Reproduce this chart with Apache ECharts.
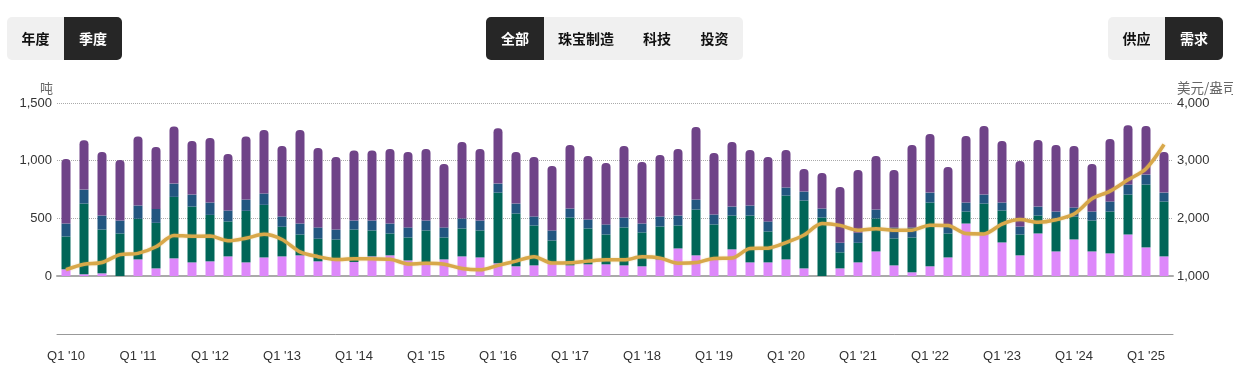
<!DOCTYPE html>
<html>
<head>
<meta charset="utf-8">
<script src="https://cdn.jsdelivr.net/npm/echarts@6/dist/echarts.min.js"></script>
<style>
  html, body { margin: 0; padding: 0; background: #fff; }
  #wrap { position: relative; width: 1233px; height: 380px; overflow: hidden; }
  #chart { position: absolute; left: 0; top: 0; width: 1233px; height: 380px; }
  .grp { position: absolute; top: 17px; height: 43px; display: flex; background: #f0f0f0; border-radius: 5px; overflow: hidden; }
  .btn { height: 43px; line-height: 43px; text-align: center; font-family: "Noto Sans CJK SC", "Noto Sans", sans-serif; font-weight: bold; font-size: 14px; color: #111; }
  .btn.on { background: #262626; color: #fff; }
</style>
</head>
<body>
<div id="wrap">
  <div id="chart"></div>
  <div class="grp" style="left:7px;">
    <div class="btn" style="width:57px;">年度</div>
    <div class="btn on" style="width:58px;">季度</div>
  </div>
  <div class="grp" style="left:486px;">
    <div class="btn on" style="width:58px;">全部</div>
    <div class="btn" style="width:84px;">珠宝制造</div>
    <div class="btn" style="width:58px;">科技</div>
    <div class="btn" style="width:57px;">投资</div>
  </div>
  <div class="grp" style="left:1108px;">
    <div class="btn" style="width:57px;">供应</div>
    <div class="btn on" style="width:58px;">需求</div>
  </div>
</div>
<script>
// Quarter labels
const quarters = [
  "Q1 '10","Q2 '10","Q3 '10","Q4 '10","Q1 '11","Q2 '11","Q3 '11","Q4 '11",
  "Q1 '12","Q2 '12","Q3 '12","Q4 '12","Q1 '13","Q2 '13","Q3 '13","Q4 '13",
  "Q1 '14","Q2 '14","Q3 '14","Q4 '14","Q1 '15","Q2 '15","Q3 '15","Q4 '15",
  "Q1 '16","Q2 '16","Q3 '16","Q4 '16","Q1 '17","Q2 '17","Q3 '17","Q4 '17",
  "Q1 '18","Q2 '18","Q3 '18","Q4 '18","Q1 '19","Q2 '19","Q3 '19","Q4 '19",
  "Q1 '20","Q2 '20","Q3 '20","Q4 '20","Q1 '21","Q2 '21","Q3 '21","Q4 '21",
  "Q1 '22","Q2 '22","Q3 '22","Q4 '22","Q1 '23","Q2 '23","Q3 '23","Q4 '23",
  "Q1 '24","Q2 '24","Q3 '24","Q4 '24","Q1 '25","Q2 '25"
];

// Central banks (pink, bottom)
const centralBanks = [
  58,15,23,-23, 144,66,153,118, 127,170,118,161, 170,179,127,133,
  121,170,179,135, 121,144,170,161, 110,84,92,107, 92,101,101,92,
  84,144,239,179, 153,231,118,118, 144,66,-17,66, 118,213,92,32,
  84,161,455,369, 291,179,369,213, 317,213,196,360, 248,170
];

// Investment (dark green)
const investment = [
  285,613,380,369, 352,395,533,484, 403,303,447,456, 257,181,196,184,
  282,225,190,199, 274,190,242,234, 613,458,346,201, 415,311,259,329,
  294,285,199,397, 294,293,406,268, 553,588,507,139, 170,286,234,302,
  553,208,104,259, 277,181,155,268, 199,268,363,346, 545,476
];

// Technology (dark blue)
const technology = [
  112,121,121,112, 115,121,115,104, 107,95,98,98, 89,95,98,86,
  78,86,86,87, 86,87,87,86, 78,86,78,87, 78,78,87,86,
  77,87,86,87, 86,78,87,87, 70,78,78,83, 87,77,95,87,
  86,60,78,78, 69,69,78,78, 78,78,87,87, 86,77
];

// Jewellery (purple, top)
const jewellery = [
  559,427,551,525, 599,536,496,464, 559,490,547,550, 611,810,689,629,
  608,608,646,654, 620,550,662,620, 481,447,516,559, 550,550,533,620,
  533,533,577,628, 533,559,481,559, 325,196,308,484, 544,464,498,714,
  508,516,576,594, 533,568,577,576, 533,412,541,515, 421,352
];

// Gold price, USD/oz (right axis)
const goldPrice = [
  1112,1205,1235,1370, 1392,1507,1703,1690, 1692,1610,1655,1722, 1633,1418,1335,1285,
  1300,1297,1292,1210, 1219,1205,1130,1108, 1185,1258,1335,1225, 1228,1258,1280,1280,
  1332,1310,1222,1233, 1305,1311,1476,1483, 1580,1711,1910,1878, 1795,1820,1792,1795,
  1880,1874,1735,1730, 1900,1978,1932,1975, 2074,2338,2472,2668, 2860,3280
];

const leftTicks = { min: 0, max: 1500, interval: 500 };
const rightTicks = { min: 1000, max: 4000, interval: 1000 };

const fmt = v => String(v).replace(/\B(?=(\d{3})+(?!\d))/g, ',');
const labelFont = { fontFamily: 'Liberation Sans, Arial, sans-serif', fontSize: 13, color: '#333' };

const chart = echarts.init(document.getElementById('chart'), null, { renderer: 'canvas' });
const barCommon = { type: 'bar', stack: 'demand', barWidth: 9, xAxisIndex: 0, yAxisIndex: 0 };

chart.setOption({
  animation: false,
  grid: { left: 57, right: 60, top: 103, bottom: 104, containLabel: false, outerBoundsMode: 'none' },
  xAxis: [
    {
      type: 'category', data: quarters, position: 'bottom',
      axisLine: { show: true, lineStyle: { color: '#aaa', width: 2 } },
      axisTick: { show: false }, axisLabel: { show: false }, splitLine: { show: false }
    },
    {
      type: 'category', data: quarters, position: 'bottom', offset: 58,
      axisLine: { show: true, lineStyle: { color: '#999', width: 1 } },
      axisTick: { show: false },
      axisLabel: Object.assign({ interval: 3, margin: 16 }, labelFont),
      splitLine: { show: false }
    }
  ],
  yAxis: [
    {
      type: 'value', position: 'left', min: leftTicks.min, max: leftTicks.max, interval: leftTicks.interval,
      name: '吨', nameLocation: 'end', nameGap: 8,
      nameTextStyle: { fontFamily: 'Noto Sans CJK SC', fontSize: 13, color: '#666', align: 'right', padding: [0, 4, 0, 0] },
      axisLine: { show: false }, axisTick: { show: false },
      axisLabel: Object.assign({ margin: 5, formatter: fmt }, labelFont),
      splitLine: { show: true, lineStyle: { color: '#aaa', type: 'dotted', width: 1 } }
    },
    {
      type: 'value', position: 'right', min: rightTicks.min, max: rightTicks.max, interval: rightTicks.interval,
      name: '美元/盎司', nameLocation: 'end', nameGap: 8,
      nameTextStyle: { fontFamily: 'Noto Sans CJK SC', fontSize: 13.5, color: '#666', align: 'left', padding: [0, 0, 0, 4] },
      axisLine: { show: false }, axisTick: { show: false },
      axisLabel: Object.assign({ margin: 4, formatter: fmt }, labelFont),
      splitLine: { show: false }
    }
  ],
  series: [
    Object.assign({ name: '央行', data: centralBanks, itemStyle: { color: '#dd88fa' } }, barCommon),
    Object.assign({ name: '投资', data: investment, itemStyle: { color: '#006658' } }, barCommon),
    Object.assign({ name: '科技', data: technology, itemStyle: { color: '#225680' } }, barCommon),
    Object.assign({ name: '珠宝制造', data: jewellery, itemStyle: { color: '#6f4388', borderRadius: [4, 4, 0, 0] } }, barCommon),
    {
      name: '金价', type: 'line', data: goldPrice, xAxisIndex: 0, yAxisIndex: 1,
      smooth: 0.3, showSymbol: false, symbol: 'none', z: 5,
      lineStyle: { color: '#d8a84a', width: 3.5, shadowColor: 'rgba(216,168,74,0.45)', shadowBlur: 2 }
    }
  ]
});
</script>
</body>
</html>
